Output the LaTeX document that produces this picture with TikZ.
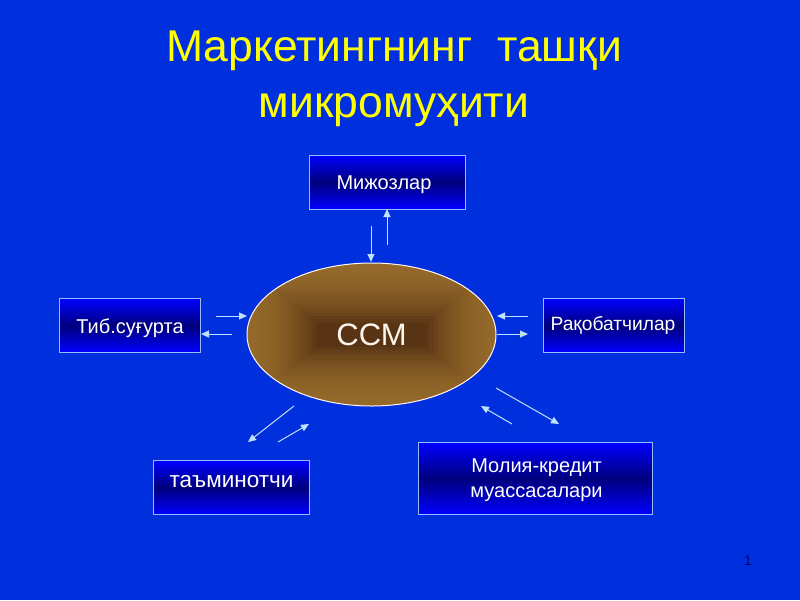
\documentclass[tikz,border=0pt]{standalone}
\usepackage{fontspec}
\setmainfont{Liberation Sans}
\definecolor{bgblue}{RGB}{0,48,222}
\definecolor{boxedge}{RGB}{150,190,255}
\definecolor{boxout}{RGB}{0,0,255}
\definecolor{boxmid}{RGB}{0,0,125}
\definecolor{brownout}{RGB}{148,105,42}
\definecolor{brownin}{RGB}{88,52,20}
\definecolor{arrowc}{RGB}{190,225,255}
\definecolor{titley}{RGB}{255,255,0}
\usetikzlibrary{arrows.meta,shapes.geometric}
\tikzset{
 x=1pt,y=-1pt,
 boxn/.style={draw=boxedge,line width=1pt,minimum width=#1,inner sep=0pt,top color=boxout,bottom color=boxout,middle color=boxmid,shading angle=0},
 lab/.style={text=white,inner sep=0pt,align=center,font=\fontsize{20}{25.5}\selectfont},
 ttl/.style={text=titley,inner sep=0pt,align=center,font=\fontsize{44.5}{56}\selectfont},
 arr/.style={draw=arrowc,line width=1pt,-{Triangle[length=8pt,width=7pt]}},
}
\begin{document}
\begin{tikzpicture}
\useasboundingbox (0,0) rectangle (800,600);
\fill[bgblue] (0,0) rectangle (800,600);
\node[ttl] (title) at (394,79) {Маркетингнинг\ \ ташқи\\микромуҳити};
\node[boxn=156pt,minimum height=54pt] (mij) at (387,182) {};
\node[boxn=141pt,minimum height=54pt] (tib) at (130,325.5) {};
\node[boxn=141pt,minimum height=54pt] (raq) at (613.5,325.5) {};
\node[boxn=156pt,minimum height=54pt] (tam) at (231,487.5) {};
\node[boxn=234pt,minimum height=72pt] (mol) at (535.5,478.5) {};
\node[lab] (mijt) at (384,184.5) {Мижозлар};
\node[lab] (tibt) at (130,328.5) {Тиб.суғурта};
\node[lab,font=\fontsize{19.2}{25}\selectfont] (raqt) at (613,325.5) {Рақобатчилар};
\node[lab,font=\fontsize{22.5}{27}\selectfont] (tamt) at (231.5,481.5) {таъминотчи};
\node[lab] (molt) at (536.5,480) {Молия-кредит\\муассасалари};
\node[ellipse,draw=none,minimum width=249pt,minimum height=143pt,inner sep=0pt,
 path picture={
  \foreach \i in {0,...,19}{
    \pgfmathsetmacro{\tt}{\i/19}
    \pgfmathsetmacro{\ww}{125*(1-\tt)+5+50*\tt}
    \pgfmathsetmacro{\hh}{72*(1-\tt)+2+10*\tt}
    \pgfmathsetmacro{\mm}{100*\tt*\tt}
    \fill[brownin!\mm!brownout] (path picture bounding box.center) ++(-\ww,-\hh) rectangle ++(2*\ww,2*\hh);
  }
 }] (ssm) at (371.5,334.5) {};
\node[ellipse,draw=white!85!pink,line width=1pt,minimum width=249pt,minimum height=143pt,inner sep=0pt] (ssmo) at (371.5,334.5) {};
\node[text=white!93!orange,inner sep=0pt,font=\fontsize{31}{36}\selectfont] (ssmt) at (371.5,335) {ССМ};
\node[text=boxmid,inner sep=0pt,font=\fontsize{14}{16}\selectfont] (pg) at (748,561) {1};
\coordinate (a1) at (371,226); \coordinate (a2) at (371,262);
\coordinate (b1) at (387,245); \coordinate (b2) at (387,209);
\coordinate (c1) at (216,316); \coordinate (c2) at (247,316);
\coordinate (d1) at (232,334); \coordinate (d2) at (201,334);
\coordinate (e1) at (528,316); \coordinate (e2) at (497,316);
\coordinate (f1) at (497,334); \coordinate (f2) at (528,334);
\coordinate (g1) at (294,406); \coordinate (g2) at (248,442);
\coordinate (h1) at (278,442); \coordinate (h2) at (309,424);
\coordinate (i1) at (496,388); \coordinate (i2) at (559,424);
\coordinate (j1) at (512,424); \coordinate (j2) at (481,406);
\foreach \s/\e in {a1/a2,b1/b2,c1/c2,d1/d2,e1/e2,f1/f2,g1/g2,h1/h2,i1/i2,j1/j2}
  \draw[arr] (\s) -- (\e);
\end{tikzpicture}
\end{document}
